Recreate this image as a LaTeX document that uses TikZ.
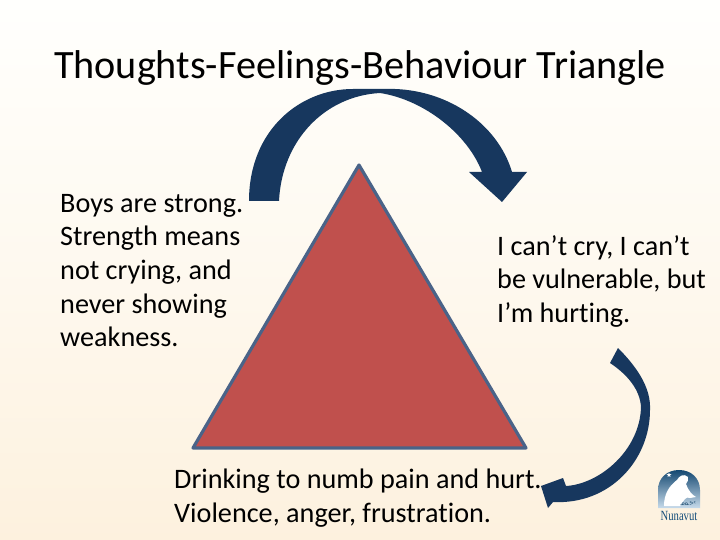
\documentclass[tikz,border=0pt]{standalone}
\usepackage{fontspec}
\usetikzlibrary{shapes.geometric}
\setmainfont{Carlito}[Ligatures=NoCommon]
\newfontfamily\logoserif{Liberation Serif}
\newfontfamily\logosyl{DejaVu Sans}
\definecolor{bgtop}{HTML}{FFFFFD}
\definecolor{bgbot}{HTML}{FDF1DE}
\definecolor{arrowblue}{HTML}{17375E}
\definecolor{tri}{HTML}{C0504D}
\definecolor{triline}{HTML}{4A6388}
\definecolor{logoblue}{HTML}{1F6FAE}
\tikzset{
  bodytext/.style={anchor=north west,align=left,inner sep=0pt,font=\fontsize{28.2}{33.6}\selectfont,text=black},
  titletext/.style={anchor=center,inner sep=0pt,font=\fontsize{40.2}{44}\selectfont,text=black},
  bluearrow/.style={fill=arrowblue,draw=none}
}
\begin{document}
\begin{tikzpicture}[x=1pt,y=-1pt]
\useasboundingbox (0,0) rectangle (720,540);
\shade[top color=bgtop,bottom color=bgbot,middle color=bgtop!55!bgbot] (0,0) rectangle (720,540);
\node[titletext] (title) at (360,68.5) {Thoughts-Feelings-Behaviour Triangle};
% top arrow
\path[bluearrow] (249,201) .. controls (249,130) and (300,89) .. (353,89)
  -- (395,89)
  .. controls (450,91) and (498,125) .. (512,172)
  -- (527,172) -- (502,202) -- (469,172) -- (482,172)
  .. controls (468,135) and (425,100) .. (380,93)
  .. controls (325,96) and (282,140) .. (279,201) -- cycle;
% triangle
\draw[fill=tri,draw=triline,line width=3.2pt,line join=round] (359,165) coordinate (apex) -- (526,448) -- (193,448) -- cycle;
% right arrow
\path[bluearrow] (618,348) .. controls (640,370) and (651,390) .. (650,410)
  .. controls (650,460) and (610,505) .. (553,502)
  -- (548,508) -- (541,486) -- (563,478) -- (566,486)
  .. controls (600,484) and (640,450) .. (641,407)
  .. controls (640,390) and (628,375) .. (610,363) -- cycle;
% texts
\node[bodytext] (thoughts) at (60,194) {Boys are strong.\\Strength means\\not crying, and\\never showing\\weakness.};
\node[bodytext] (feelings) at (497,235) {I can’t cry, I can’t\\be vulnerable, but\\I’m hurting.};
\node[bodytext] (behaviour) at (174,469) {Drinking to numb pain and hurt.\\Violence, anger, frustration.};
% logo
\shade[top color=logoblue!65!black,bottom color=logoblue!25!white] (658,508) -- (658,490) .. controls (658,478) and (667,470) .. (679,470) .. controls (691,470) and (700,478) .. (700,490) -- (700,508) -- cycle;
\fill[white] (664,506) .. controls (664,494) and (669,486) .. (677,480) .. controls (679,476) and (684,473) .. (688,477)
  .. controls (689,480) and (687,482) .. (686,484) .. controls (688,490) and (692,495) .. (696,497) -- (690,498) .. controls (686,496) and (684,500) .. (680,506) -- cycle;
\node[star,star points=5,star point ratio=2.4,fill=white,inner sep=0pt,minimum size=5pt] (logostar) at (669,475) {};
\node[inner sep=0pt,text=logoblue!60!black,font=\logosyl\fontsize{5.5}{6}\selectfont] (logosyl) at (688,503.5) {ᓄᓇᕗᑦ};
\node[inner sep=0pt,text=logoblue!70!black,font=\logoserif\fontsize{14}{14}\selectfont,xscale=.76] (logoname) at (679,516) {Nunavut};
\end{tikzpicture}
\end{document}
